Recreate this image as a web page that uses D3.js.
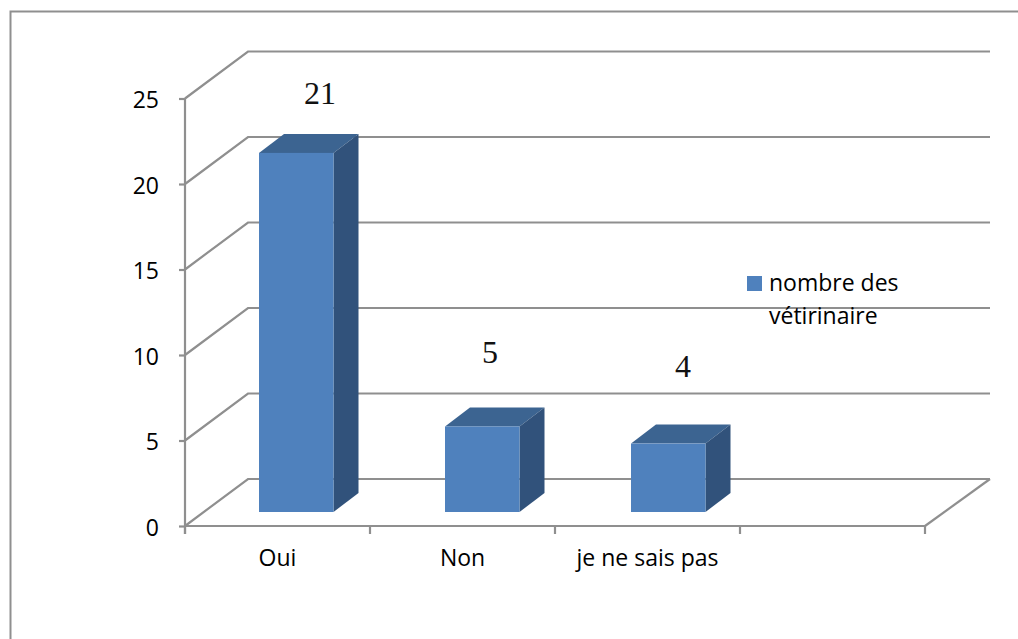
<!DOCTYPE html>
<html><head><meta charset="utf-8">
<script src="https://cdn.jsdelivr.net/npm/d3@7"></script>
<style>html,body{margin:0;padding:0;background:#fff}svg{display:block}</style></head>
<body><svg id="c" width="1018" height="639"></svg>
<script>
const categories = ["Oui", "Non", "je ne sais pas", ""];
const values = [21, 5, 4];
const yTicks = [0, 5, 10, 15, 20, 25];
const seriesName = ["nombre des", "vétirinaire"];

const grey = "#8f8f8f", front = "#4f81bd", top_ = "#3c6491", side = "#31527b";
const uiFont = "'Open Sans'";
const svg = d3.select("#c");
const y = d3.scaleLinear().domain([0, 25]).range([526, 98.5]);
const x = d3.scaleBand().domain(categories).range([185, 925]);
const barX = d3.scalePoint().domain(categories.slice(0, 3)).range([259, 631]);
const back = {dx: 63, dy: -47};
const barW = 74.5, depth = {dx: 25, dy: -19}, inset = {dy: -14};

// outer frame
svg.append("path").attr("d", "M10.5,639V11.5H1018").attr("fill", "none").attr("stroke", grey).attr("stroke-width", 2);

// walls and gridlines
svg.append("g").selectAll("path").data(yTicks).join("path")
  .attr("fill", "none").attr("stroke", grey).attr("stroke-width", 2.2)
  .attr("d", d => d3.line()([[185, y(d)], [185 + back.dx, y(d) + back.dy], [990, y(d) + back.dy]]));
svg.append("path").attr("fill", "none").attr("stroke", grey).attr("stroke-width", 2.2)
  .attr("d", d3.line()([[925, y(0)], [990, y(0) + back.dy]]));

// axes
const yAxis = d3.axisLeft(y).tickValues(yTicks).tickSize(6).tickPadding(20);
const gy = svg.append("g").attr("transform", "translate(185,0)").call(yAxis);
const xAxis = d3.axisBottom(x).tickSize(0).tickPadding(24);
const gx = svg.append("g").attr("transform", `translate(0,${y(0)})`).call(xAxis);
[gy, gx].forEach(g => {
  g.attr("font-family", uiFont).attr("font-size", 23);
  g.selectAll("path.domain,.tick line").attr("stroke", grey).attr("stroke-width", 2.2);
  g.selectAll("text").attr("fill", "#000");
});
gy.select("path.domain").attr("d", `M185,${y(25)}V${y(0) + 8}`).attr("transform", "translate(-185,0)");
gx.select("path.domain").attr("d", `M185,${y(0)}H925`).attr("transform", `translate(0,${-y(0)})`);
gy.selectAll(".tick text").attr("x", -26).attr("y", 2);
svg.append("g").selectAll("line").data([...categories.map(c => x(c)), 925]).join("line")
  .attr("x1", d => d).attr("x2", d => d).attr("y1", y(0)).attr("y2", y(0) + 8)
  .attr("stroke", grey).attr("stroke-width", 2.2);

// bars
const bars = svg.append("g").selectAll("g").data(values).join("g");
const bx = (d, i) => barX(categories[i]);
const by = d => y(d) + inset.dy;
const by0 = y(0) + inset.dy;
bars.append("path").attr("fill", top_).attr("d", (d, i) => {
  const l = bx(d, i), t = by(d);
  return d3.line()([[l, t], [l + depth.dx, t + depth.dy], [l + barW + depth.dx, t + depth.dy], [l + barW, t]]) + "Z";
});
bars.append("path").attr("fill", side).attr("d", (d, i) => {
  const r = bx(d, i) + barW, t = by(d);
  return d3.line()([[r, t], [r + depth.dx, t + depth.dy], [r + depth.dx, by0 + depth.dy], [r, by0]]) + "Z";
});
bars.append("rect").attr("fill", front)
  .attr("x", bx).attr("y", by).attr("width", barW).attr("height", d => by0 - by(d));

// data labels (placed by hand in the reference)
const labelDx = [61, 45, 52], labelY = [104, 363, 377];
svg.append("g").selectAll("text").data(values).join("text")
  .attr("x", (d, i) => bx(d, i) + labelDx[i])
  .attr("y", (d, i) => labelY[i])
  .attr("text-anchor", "middle").attr("font-family", "'Liberation Serif'").attr("font-size", 32).attr("fill", "#111")
  .text(d => d);

// legend
svg.append("rect").attr("x", 747).attr("y", 276).attr("width", 15).attr("height", 15).attr("fill", front);
svg.append("g").selectAll("text").data(seriesName).join("text")
  .attr("x", 769).attr("y", (d, i) => 291 + i * 33)
  .attr("font-family", uiFont).attr("font-size", 23).attr("fill", "#000").text(d => d);
</script></body></html>
